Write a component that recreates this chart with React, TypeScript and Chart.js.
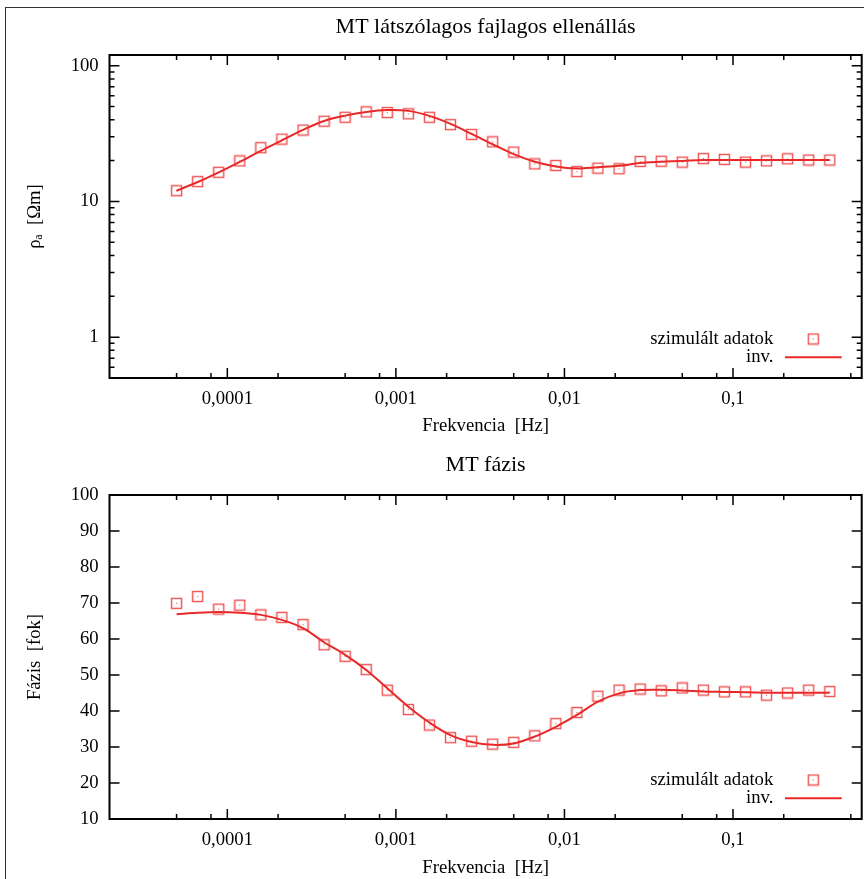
import React, { useEffect, useRef } from "react";
import { Chart, registerables } from "chart.js";

Chart.register(...registerables);

const FONT = '"Liberation Serif", "Times New Roman", serif';

// ---- data ----
const frequencies = [
  5.0e-5, 6.67e-5, 8.89e-5, 1.186e-4, 1.581e-4, 2.108e-4, 2.812e-4, 3.749e-4,
  5.0e-4, 6.67e-4, 8.89e-4, 1.186e-3, 1.581e-3, 2.108e-3, 2.812e-3, 3.749e-3,
  5.0e-3, 6.67e-3, 8.89e-3, 1.186e-2, 1.581e-2, 2.108e-2, 2.812e-2, 3.749e-2,
  5.0e-2, 6.67e-2, 8.89e-2, 0.1186, 0.1581, 0.2108, 0.2812, 0.3749,
];

const rhoSimulated = [
  12.0, 14.0, 16.4, 19.9, 24.9, 28.8, 33.6, 39.0,
  41.7, 45.7, 45.2, 44.2, 41.7, 36.8, 31.2, 27.5,
  23.1, 18.9, 18.4, 16.6, 17.6, 17.4, 19.7, 19.8,
  19.5, 20.7, 20.4, 19.5, 19.9, 20.6, 20.2, 20.2,
];

const rhoInversion = [
  12.0, 13.9, 16.4, 19.6, 23.6, 28.2, 33.7, 39.2,
  42.9, 45.7, 47.2, 46.5, 42.7, 37.3, 31.5, 26.4,
  22.3, 19.6, 18.1, 17.5, 17.9, 18.3, 19.2, 19.6,
  19.9, 20.2, 20.2, 20.2, 20.2, 20.2, 20.2, 20.2,
];

const phaseSimulated = [
  69.9, 71.8, 68.3, 69.4, 66.7, 66.0, 64.0, 58.4,
  55.2, 51.5, 45.8, 40.4, 36.1, 32.6, 31.6, 30.8,
  31.3, 33.1, 36.5, 39.6, 44.1, 45.8, 46.1, 45.6,
  46.4, 45.8, 45.3, 45.3, 44.4, 45.0, 45.8, 45.4,
];

const phaseInversion = [
  66.9, 67.3, 67.5, 67.3, 66.7, 65.3, 63.0, 59.1,
  55.6, 51.4, 46.3, 41.2, 36.8, 33.3, 31.4, 30.6,
  31.0, 32.9, 35.6, 38.9, 42.6, 44.9, 45.8, 45.9,
  45.7, 45.4, 45.3, 45.2, 45.1, 45.1, 45.1, 45.1,
];

const xMajorTicks = [0.0001, 0.001, 0.01, 0.1];
const xTickLabels = ["0,0001", "0,001", "0,01", "0,1"];
const xMinorTicks = [
  5e-5, 8e-5, 2e-4, 5e-4, 8e-4, 2e-3, 5e-3, 8e-3, 2e-2, 5e-2, 8e-2, 0.2, 0.5,
];

const rhoMajorTicks = [1, 10, 100];
const rhoTickLabels = ["1", "10", "100"];
const rhoMinorTicks = [
  0.6, 0.7, 0.8, 0.9, 2, 3, 4, 5, 6, 7, 8, 9, 20, 30, 40, 50, 60, 70, 80, 90,
];

const phaseTicks = [10, 20, 30, 40, 50, 60, 70, 80, 90, 100];

const seriesLabels = ["szimulált adatok", "inv."];

const RED_LINE = "rgb(232,40,40)";

function makeMarker(): HTMLCanvasElement {
  const c = document.createElement("canvas");
  c.width = 13;
  c.height = 13;
  const g = c.getContext("2d")!;
  g.strokeStyle = "rgba(236,50,50,0.85)";
  g.lineWidth = 1.4;
  g.strokeRect(1.5, 1.5, 10, 10);
  g.fillStyle = "rgba(236,50,50,0.9)";
  g.fillRect(6, 6, 1, 1);
  return c;
}

const gnuFrame = {
  id: "gnuFrame",
  afterDraw(chart: any, _args: any, opts: any) {
    const { ctx, chartArea: a } = chart;
    const xs = chart.scales.x;
    const ys = chart.scales.y;
    ctx.save();
    ctx.strokeStyle = "#000";
    ctx.lineWidth = 1.5;
    ctx.beginPath();
    const xt = (vals: number[], len: number) =>
      vals.forEach((v) => {
        const p = xs.getPixelForValue(v);
        if (p <= a.left + 1 || p >= a.right - 1) return;
        ctx.moveTo(p, a.bottom);
        ctx.lineTo(p, a.bottom - len);
        ctx.moveTo(p, a.top);
        ctx.lineTo(p, a.top + len);
      });
    const yt = (vals: number[], len: number) =>
      vals.forEach((v) => {
        const p = ys.getPixelForValue(v);
        if (p <= a.top + 1 || p >= a.bottom - 1) return;
        ctx.moveTo(a.left, p);
        ctx.lineTo(a.left + len, p);
        ctx.moveTo(a.right, p);
        ctx.lineTo(a.right - len, p);
      });
    xt(opts.xMajor, 10);
    xt(opts.xMinor, 5);
    yt(opts.yMajor, 10);
    yt(opts.yMinor, 5);
    ctx.stroke();
    ctx.lineWidth = 2;
    ctx.strokeRect(a.left, a.top, a.right - a.left, a.bottom - a.top);

    // legend (gnuplot style: text right-aligned, sample on the right)
    const ds = chart.data.datasets;
    ctx.font = `18.7px ${FONT}`;
    ctx.fillStyle = "#000";
    ctx.textAlign = "right";
    ctx.textBaseline = "middle";
    const y1 = a.bottom - 39;
    const y2 = a.bottom - 20.7;
    ctx.fillText(ds[0].label, a.right - 88.4, y1);
    ctx.fillText(ds[1].label, a.right - 88.4, y2);
    const m = opts.marker as HTMLCanvasElement;
    ctx.drawImage(m, a.right - 48.4 - m.width / 2, y1 - m.height / 2);
    ctx.strokeStyle = RED_LINE;
    ctx.lineWidth = 2;
    ctx.beginPath();
    ctx.moveTo(a.right - 76.7, y2);
    ctx.lineTo(a.right - 20, y2);
    ctx.stroke();
    ctx.restore();
  },
};

function xScale(height: number, titlePadBottom: number) {
  return {
    type: "logarithmic" as const,
    min: 2e-5,
    max: 0.58,
    afterFit: (s: any) => {
      s.height = height;
      s.paddingLeft = 0;
      s.paddingRight = 0;
    },
    afterBuildTicks: (s: any) => {
      s.ticks = xMajorTicks.map((v) => ({ value: v }));
    },
    grid: { display: false, drawTicks: false },
    border: { display: false },
    ticks: {
      autoSkip: false,
      maxRotation: 0,
      padding: 10,
      color: "#000",
      font: { family: FONT, size: 18.7 },
      callback: (v: any) => {
        const i = xMajorTicks.findIndex((t) => Math.abs(t - v) / t < 1e-6);
        return i >= 0 ? xTickLabels[i] : "";
      },
    },
    title: {
      display: true,
      text: "Frekvencia  [Hz]",
      color: "#000",
      font: { family: FONT, size: 18.7 },
      padding: { top: 0, bottom: titlePadBottom },
    },
  };
}

function buildConfig(
  kind: "rho" | "phase",
  marker: HTMLCanvasElement
): any {
  const isRho = kind === "rho";
  const sim = isRho ? rhoSimulated : phaseSimulated;
  const inv = isRho ? rhoInversion : phaseInversion;
  const yScale: any = isRho
    ? {
        type: "logarithmic",
        min: 0.5,
        max: 120,
        afterBuildTicks: (s: any) => {
          s.ticks = rhoMajorTicks.map((v) => ({ value: v }));
        },
        ticks: {
          callback: (v: any) => {
            const i = rhoMajorTicks.findIndex((t) => Math.abs(t - v) / t < 1e-6);
            return i >= 0 ? rhoTickLabels[i] : "";
          },
        },
        title: { text: "ρₐ  [Ωm]" },
      }
    : {
        type: "linear",
        min: 10,
        max: 100,
        afterBuildTicks: (s: any) => {
          s.ticks = phaseTicks.map((v) => ({ value: v }));
        },
        ticks: { callback: (v: any) => String(v) },
        title: { text: "Fázis  [fok]" },
      };
  yScale.afterFit = (s: any) => {
    s.width = 109.5;
    s.paddingTop = 0;
    s.paddingBottom = 0;
  };
  yScale.grid = { display: false, drawTicks: false };
  yScale.border = { display: false };
  yScale.ticks = {
    ...yScale.ticks,
    autoSkip: false,
    padding: 10.8,
    color: "#000",
    font: { family: FONT, size: 18.7 },
  };
  yScale.title = {
    ...yScale.title,
    display: true,
    color: "#000",
    font: { family: FONT, size: 18.7 },
    padding: { top: 24, bottom: 0 },
  };

  return {
    type: "line",
    data: {
      datasets: [
        {
          label: seriesLabels[0],
          data: frequencies.map((f, i) => ({ x: f, y: sim[i] })),
          showLine: false,
          pointStyle: marker,
          pointRadius: 6,
          borderColor: RED_LINE,
          backgroundColor: "transparent",
        },
        {
          label: seriesLabels[1],
          data: frequencies.map((f, i) => ({ x: f, y: inv[i] })),
          borderColor: RED_LINE,
          borderWidth: 2,
          pointRadius: 0,
          tension: 0.35,
          fill: false,
        },
      ],
    },
    options: {
      animation: false,
      responsive: false,
      devicePixelRatio: 1,
      parsing: true,
      layout: {
        autoPadding: false,
        padding: { left: 0, right: 2.3, top: 0, bottom: 0 },
      },
      scales: {
        x: isRho ? xScale(67, 7.8) : xScale(60, 0),
        y: yScale,
      },
      plugins: {
        legend: { display: false },
        tooltip: { enabled: false },
        title: {
          display: true,
          fullSize: false,
          text: isRho ? "MT látszólagos fajlagos ellenállás" : "MT fázis",
          color: "#000",
          font: { family: FONT, size: 22, weight: "normal" },
          padding: isRho ? { top: 13.8, bottom: 14.8 } : { top: 6.8, bottom: 16.8 },
        },
        gnuFrame: {
          xMajor: xMajorTicks,
          xMinor: xMinorTicks,
          yMajor: isRho ? rhoMajorTicks : phaseTicks,
          yMinor: isRho ? rhoMinorTicks : [],
          marker,
        },
      },
    },
    plugins: [gnuFrame],
  };
}

export default function App() {
  const topRef = useRef<HTMLCanvasElement | null>(null);
  const bottomRef = useRef<HTMLCanvasElement | null>(null);

  useEffect(() => {
    const marker = makeMarker();
    const c1 = new Chart(topRef.current!, buildConfig("rho", marker));
    const c2 = new Chart(bottomRef.current!, buildConfig("phase", marker));
    return () => {
      c1.destroy();
      c2.destroy();
    };
  }, []);

  return (
    <div
      style={{
        position: "fixed",
        left: 0,
        top: 0,
        width: 864,
        height: 879,
        overflow: "hidden",
        background: "#fff",
      }}
    >
      <div
        style={{
          position: "absolute",
          left: 5,
          top: 7,
          width: 920,
          height: 920,
          border: "1px solid #333",
        }}
      />
      <canvas
        ref={topRef}
        width={864}
        height={445}
        style={{ position: "absolute", left: 0, top: 0, width: 864, height: 445 }}
      />
      <canvas
        ref={bottomRef}
        width={864}
        height={434}
        style={{ position: "absolute", left: 0, top: 445, width: 864, height: 434 }}
      />
    </div>
  );
}
